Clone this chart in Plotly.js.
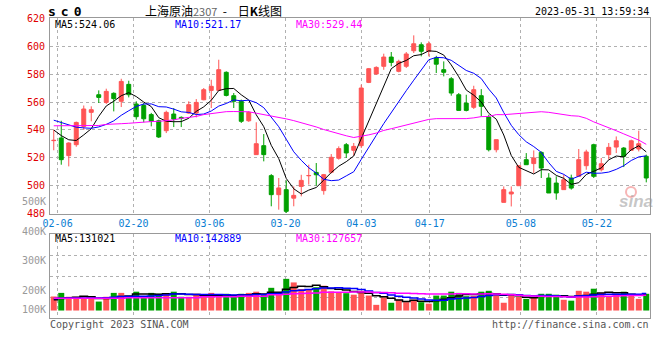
<!DOCTYPE html>
<html>
<head>
<meta charset="utf-8">
<script src="https://cdn.plot.ly/plotly-3.0.1.min.js"></script>
<style>html,body{margin:0;padding:0;background:#fff;}#chart{width:660px;height:360px;}</style>
</head>
<body>
<div id="chart"></div>
<script>
// ---------- data (SC2307 daily, 2023) ----------
const dates = ['02-03','02-06','02-07','02-08','02-09','02-10','02-13','02-14','02-15','02-16',
  '02-17','02-20','02-21','02-22','02-23','02-24','02-27','02-28','03-01','03-02',
  '03-03','03-06','03-07','03-08','03-09','03-10','03-13','03-14','03-15','03-16',
  '03-17','03-20','03-21','03-22','03-23','03-24','03-27','03-28','03-29','03-30',
  '03-31','04-03','04-04','04-06','04-07','04-10','04-11','04-12','04-13','04-14',
  '04-17','04-18','04-19','04-20','04-21','04-24','04-25','04-26','04-27','04-28',
  '05-04','05-05','05-08','05-09','05-10','05-11','05-12','05-15','05-16','05-17',
  '05-18','05-19','05-22','05-23','05-24','05-25','05-26','05-29','05-30','05-31'];

const opens = [532.4,534.3,521.7,529.5,542.5,552.6,565.2,559.7,566.2,560.5,
  572.6,558.6,557.5,551.0,546.6,539.5,551.4,549.0,552.1,552.1,
  561.6,568.3,568.3,581.2,564.5,560.5,546.6,522.4,528.8,507.4,
  493.8,497.4,491.3,499.7,507.3,509.7,496.7,509.8,519.8,529.5,
  525.5,528.8,574.0,580.0,585.5,592.1,581.9,585.5,596.6,600.9,
  596.2,591.5,583.1,576.6,565.2,559.2,556.2,564.5,549.2,525.9,
  488.3,494.3,500.2,518.8,516.0,524.0,505.7,502.1,497.4,505.7,
  506.9,514.5,529.5,511.6,522.4,527.8,527.1,525.5,526.4,521.2];

const highs = [540.2,546.6,531.2,546.0,557.5,556.9,568.3,569.5,566.9,576.6,
  575.2,560.5,559.3,552.2,547.4,553.8,555.7,549.7,560.5,562.1,
  570.0,575.9,590.2,581.9,566.4,561.7,553.5,545.5,537.1,508.5,
  505.7,504.0,499.7,508.0,515.2,516.4,508.6,522.8,528.3,530.7,
  530.7,572.4,584.3,585.5,594.5,595.7,590.2,595.7,607.6,602.6,
  603.3,593.0,589.0,577.8,566.4,565.2,571.6,569.2,550.9,533.1,
  499.7,499.7,514.5,523.5,525.4,524.7,509.2,506.9,508.1,508.1,
  526.4,525.9,530.2,520.0,530.7,535.4,527.8,533.1,539.5,522.4];

const lows = [525.5,515.2,514.0,528.0,540.0,546.2,559.3,558.6,553.3,556.4,
  563.3,547.4,545.5,542.6,534.3,537.8,542.1,542.1,551.5,549.0,
  561.2,555.7,568.3,564.0,555.7,545.0,545.8,522.4,517.6,485.5,
  483.1,480.7,485.5,492.6,501.0,500.2,493.8,509.0,518.8,520.0,
  521.7,527.1,573.5,579.5,583.0,585.5,581.2,584.3,595.0,592.6,
  592.6,580.7,578.3,564.5,554.0,553.3,555.0,549.7,524.7,524.0,
  488.3,485.4,500.2,515.2,509.2,505.7,495.0,490.2,497.4,497.4,
  506.9,511.6,505.7,510.4,518.8,523.5,513.5,525.5,524.7,502.6];

const closes = [532.6,518.8,530.7,545.4,555.0,554.5,563.3,567.6,562.4,574.7,
  565.2,549.5,548.0,546.2,535.0,552.6,547.8,548.3,558.1,559.7,
  568.8,571.2,583.1,564.7,560.5,546.2,552.6,530.2,522.4,493.8,
  498.6,481.9,493.3,504.0,507.5,508.0,508.1,520.5,526.7,523.6,
  528.3,570.0,583.8,584.7,592.1,588.3,589.0,594.3,601.6,596.2,
  601.6,587.0,581.2,566.4,554.0,554.0,568.8,556.9,525.9,533.1,
  497.4,495.7,514.5,515.2,520.0,512.8,495.0,495.0,504.5,498.5,
  518.8,524.3,506.9,515.9,527.6,532.3,521.2,532.3,530.2,505.7];

const volumes = [181000,193000,180000,180000,174000,174000,164000,180000,193000,193000,
  182000,197000,180000,193000,190000,190000,197000,180000,180000,190000,
  180000,193000,180000,190000,180000,190000,193000,197000,187000,210000,
  190000,240000,228000,206000,206000,212000,217000,198000,194000,192000,
  187000,200000,184000,153000,178000,160000,170000,162000,170000,162000,
  157000,184000,184000,197000,193000,182000,183000,197000,200000,187000,
  160000,190000,180000,173000,179000,190000,190000,187000,170000,167000,
  200000,197000,207000,193000,180000,190000,197000,184000,173000,190000];

// moving-average values at the left edge (window reaches before the first day)
const ma5Head  = [540.0,536.0,533.0,532.5];
const ma10Head = [547.0,545.5,543.5,542.0,541.5,541.2,542.2,544.0,546.5];
const ma30Head = [543.0,543.0,543.0,543.0,543.0,543.0,543.2,544.0,544.5,544.5,
  544.8,545.3,545.7,546.0,546.2,546.5,547.2,548.3,549.0,549.7,
  551.0,551.8,552.6,553.1,553.2,553.2,553.0,552.0,551.0];
const volMa5Head  = [170000,174000,177000,178000];
const volMa10Head = [174000,175000,176000,176000,176000,176000,176000,177000,178000];
const volMa30Head = [175000,175000,175000,175000,175000,175000,175000,175000,175000,175000,
  177000,177000,177000,177000,177000,177000,177000,177000,177000,177000,
  180000,180000,180000,180000,180000,182000,182000,182000,182000];

const priceTicks = [480,500,520,540,560,580,600,620];
const tickDates = ['02-06','02-20','03-06','03-20','04-03','04-17','05-08','05-22'];
const volLabelVals = [500000,400000,300000,200000,100000];
const volLabelText = ['500K','400K','300K','200K','100K'];

// header texts
const maLabels = ['MA5:524.06','MA10:521.17','MA30:529.44'];
const volMaLabels = ['MA5:131021','MA10:142889','MA30:127657'];

// ---------- derived ----------
function movingAvg(vals, n, head) {
  return vals.map((v, i) => {
    if (i < n - 1) return head[i];
    let s = 0; for (let k = i - n + 1; k <= i; k++) s += vals[k];
    return s / n;
  });
}
const idx = dates.map((d, i) => i);
const ma5 = movingAvg(closes, 5, ma5Head);
const ma10 = movingAvg(closes, 10, ma10Head);
const ma30 = movingAvg(closes, 30, ma30Head);
const vma5 = movingAvg(volumes, 5, volMa5Head);
const vma10 = movingAvg(volumes, 10, volMa10Head);
const vma30 = movingAvg(volumes, 30, volMa30Head);

const UP = '#ff5555', DOWN = '#00a000';
const MONO = 'DejaVu Sans Mono';
const VOL_RANGE = [109000, 389000];
const VOL_BASE = 134000;
const PRICE_DOM = [0.3467, 1];
const VOL_DOM = [0, 0.279];
const X_RANGE = [-0.5, dates.length - 0.5];
// Sina spaces its date grid over n-1 slots while candles use n slots
const gridScale = dates.length / (dates.length - 1);
const xTickVals = tickDates.map(d => dates.indexOf(d) * gridScale - 0.5);
const volGrid = [0.25, 0.5, 0.75].map(f => VOL_RANGE[0] + f * (VOL_RANGE[1] - VOL_RANGE[0]));
const upDown = closes.map((c, i) => c >= opens[i] ? UP : DOWN);

const traces = [
  {type: 'candlestick', x: idx, open: opens, high: highs, low: lows, close: closes,
   xaxis: 'x', yaxis: 'y', whiskerwidth: 0, hoverinfo: 'skip',
   increasing: {line: {color: UP, width: 1}, fillcolor: UP},
   decreasing: {line: {color: DOWN, width: 1}, fillcolor: DOWN}},
  {type: 'scatter', mode: 'lines', x: idx, y: ma5, xaxis: 'x', yaxis: 'y', line: {color: '#000000', width: 1}, hoverinfo: 'skip'},
  {type: 'scatter', mode: 'lines', x: idx, y: ma10, xaxis: 'x', yaxis: 'y', line: {color: '#0000ff', width: 1}, hoverinfo: 'skip'},
  {type: 'scatter', mode: 'lines', x: idx, y: ma30, xaxis: 'x', yaxis: 'y', line: {color: '#ff00ff', width: 1}, hoverinfo: 'skip'},
  {type: 'bar', x: idx, y: volumes.map(v => v - VOL_BASE), base: VOL_BASE, width: 0.8,
   xaxis: 'x2', yaxis: 'y2', marker: {color: upDown, line: {width: 0}}, hoverinfo: 'skip'},
  {type: 'scatter', mode: 'lines', x: idx, y: vma5, xaxis: 'x2', yaxis: 'y2', line: {color: '#000000', width: 1.5, shape: 'hvh'}, hoverinfo: 'skip'},
  {type: 'scatter', mode: 'lines', x: idx, y: vma10, xaxis: 'x2', yaxis: 'y2', line: {color: '#0000ff', width: 1.5, shape: 'hvh'}, hoverinfo: 'skip'},
  {type: 'scatter', mode: 'lines', x: idx, y: vma30, xaxis: 'x2', yaxis: 'y2', line: {color: '#ff00ff', width: 1.5, shape: 'hvh'}, hoverinfo: 'skip'}
];

const PX = x => (x - 50) / 600;
const PY = y => (318 - y) / 300;
const volToPaper = v => VOL_DOM[0] + (v - VOL_RANGE[0]) / (VOL_RANGE[1] - VOL_RANGE[0]) * (VOL_DOM[1] - VOL_DOM[0]);
const LABEL_FLOOR = VOL_RANGE[0] + 0.1 * (VOL_RANGE[1] - VOL_RANGE[0]);

function txt(text, x, y, anchor, color, size, family, extra) {
  return Object.assign({text: text, xref: 'paper', yref: 'paper', x: PX(x), y: PY(y),
    xanchor: anchor, yanchor: 'middle', showarrow: false, borderpad: 0,
    font: {family: family || MONO, size: size || 10, color: color || '#000'}}, extra || {});
}

const maColors = ['#000000', '#0000ff', '#ff00ff'];
const maX = [54, 174, 295];
const annotations = [
  txt('<b><span style="letter-spacing:5px">sc0</span></b>', 47, 12, 'left', '#000', 13, MONO),
  txt('上海原油<span style="color:#666666;font-size:11px">2307</span>\u00a0\u00a0-\u00a0\u00a0\u00a0\u00a0日<b>K</b>线图', 213, 11, 'center', '#000', 12, 'Noto Sans CJK SC'),
  txt('2023-05-31 13:59:34', 650, 12, 'right', '#000', 10, MONO),
  txt('Copyright 2023 SINA.COM', 49, 324, 'left', '#555', 10, MONO),
  txt('http://finance.sina.com.cn', 650, 324, 'right', '#555', 10, MONO),
  txt('<b><i>sina</i></b>', 636, 201, 'center', 'rgba(150,150,150,0.55)', 17, 'Liberation Sans')
];
maLabels.forEach((t, k) => annotations.push(txt(t, maX[k], 24, 'left', maColors[k], 10, MONO)));
volMaLabels.forEach((t, k) => annotations.push(txt(t, maX[k], 238.5, 'left', maColors[k], 10, MONO)));
volLabelVals.forEach((v, k) => annotations.push({
  text: volLabelText[k], xref: 'paper', yref: 'paper', x: 0, xshift: -3,
  y: volToPaper(Math.max(v, LABEL_FLOOR)), xanchor: 'right', yanchor: 'middle',
  showarrow: false, borderpad: 0, font: {family: MONO, size: 10, color: '#999999'}}));

const gridStyle = {showgrid: true, gridcolor: '#b0b0b0', gridwidth: 1, griddash: 'dot',
  showline: true, mirror: true, linecolor: '#999999', linewidth: 1, ticks: '', zeroline: false, fixedrange: true};

const layout = {
  width: 660, height: 360,
  margin: {l: 50, r: 10, t: 18, b: 42, pad: 0},
  paper_bgcolor: '#ffffff', plot_bgcolor: '#ffffff',
  showlegend: false, bargap: 0.2, boxgap: 0.25,
  xaxis: Object.assign({}, gridStyle, {domain: [0, 1], anchor: 'y', range: X_RANGE,
    tickmode: 'array', tickvals: xTickVals, ticktext: tickDates,
    tickfont: {family: MONO, size: 10, color: '#0a7dd2'}, rangeslider: {visible: false}}),
  xaxis2: Object.assign({}, gridStyle, {domain: [0, 1], anchor: 'y2', matches: 'x', range: X_RANGE,
    tickmode: 'array', tickvals: xTickVals, showticklabels: false}),
  yaxis: Object.assign({}, gridStyle, {domain: PRICE_DOM, anchor: 'x', range: [480, 620],
    tickmode: 'array', tickvals: priceTicks, ticklabelstandoff: 2,
    tickfont: {family: MONO, size: 10, color: '#e00000'}}),
  yaxis2: Object.assign({}, gridStyle, {domain: VOL_DOM, anchor: 'x2', range: VOL_RANGE,
    tickmode: 'array', tickvals: volGrid, showticklabels: false}),
  annotations: annotations,
  shapes: [
    {type: 'circle', xref: 'paper', yref: 'paper', x0: PX(626), x1: PX(636), y0: PY(197), y1: PY(187),
     line: {color: 'rgba(240,120,120,0.55)', width: 2}}
  ]
};

Plotly.newPlot('chart', traces, layout, {staticPlot: true, displayModeBar: false});
</script>
</body>
</html>
